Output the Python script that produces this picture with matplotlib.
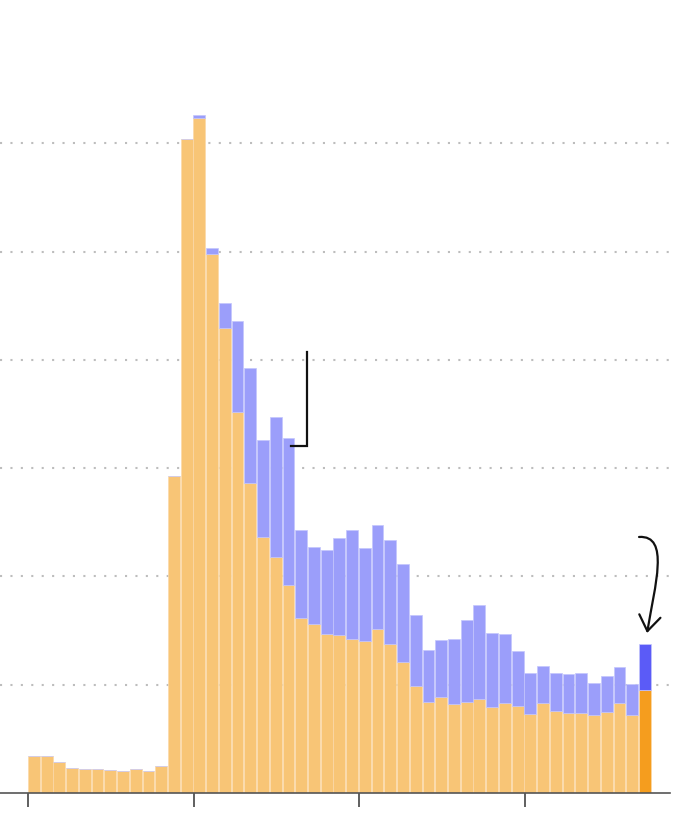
import matplotlib
matplotlib.use("Agg")
import matplotlib.pyplot as plt
from matplotlib.patches import FancyArrowPatch
from matplotlib.path import Path

# weekly values (gridline spacing = 1 unit)
lower = [0.34, 0.34, 0.29, 0.23, 0.225, 0.22, 0.21, 0.20, 0.22, 0.20,
         0.25, 2.93, 6.04, 6.23, 4.98, 4.29, 3.52, 2.86, 2.36, 2.18,
         1.92, 1.62, 1.56, 1.47, 1.46, 1.42, 1.40, 1.51, 1.38, 1.21,
         0.99, 0.84, 0.89, 0.82, 0.84, 0.87, 0.79, 0.83, 0.80, 0.73,
         0.83, 0.76, 0.74, 0.74, 0.72, 0.75, 0.83, 0.72, 0.95]
total = [0.34, 0.34, 0.29, 0.23, 0.225, 0.22, 0.21, 0.20, 0.22, 0.20,
         0.25, 2.93, 6.04, 6.26, 5.03, 4.52, 4.36, 3.92, 3.26, 3.47,
         3.28, 2.43, 2.27, 2.24, 2.35, 2.43, 2.26, 2.47, 2.34, 2.11,
         1.64, 1.32, 1.41, 1.42, 1.60, 1.74, 1.48, 1.47, 1.31, 1.11,
         1.17, 1.11, 1.10, 1.11, 1.02, 1.08, 1.16, 1.01, 1.38]
upper = [t - l for t, l in zip(total, lower)]
xs = list(range(len(lower)))
tick_pos = [0, 13, 26, 39]
grid_levels = [1, 2, 3, 4, 5, 6]

orange_light, blue_light = "#F8C576", "#9B9EFA"
orange_dark, blue_dark = "#F59D1E", "#5B5BF7"
col_lo = [orange_light] * (len(xs) - 1) + [orange_dark]
col_hi = [blue_light] * (len(xs) - 1) + [blue_dark]

fig = plt.figure(figsize=(6.74, 8.36), dpi=100)
ax = fig.add_axes([0, 1 - 793 / 836, 1, 793 / 836])

for g in grid_levels:
    ax.axhline(g, color="#BDBDBD", lw=1.5, ls=(0, (1, 4)), zorder=0)

ax.bar(xs, lower, width=0.93, color=col_lo, edgecolor="#FBD9A8", lw=0.5, zorder=2)
ax.bar(xs, upper, bottom=lower, width=0.93, color=col_hi, edgecolor="#C4C6FC", lw=0.5, zorder=2)

ax.set_xlim(-2.66, -2.66 + 674 / 12.73)
ax.set_ylim(0, 793 / 108.3)
ax.set_xticks([p - 0.45 for p in tick_pos])
ax.set_xticklabels([])
ax.set_yticks([])
ax.tick_params(axis="x", length=10, width=1.2, color="#444444", direction="out")
for s in ["top", "right", "left"]:
    ax.spines[s].set_visible(False)
ax.spines["bottom"].set_color("#555555")
ax.spines["bottom"].set_linewidth(1.2)
ax.spines["bottom"].set_bounds(-2.66, -2.66 + 670 / 12.73)
ax.spines["bottom"].set_zorder(3)

# bracket pointing at the blue part
ax.plot([20.2, 21.46, 21.46], [3.20, 3.20, 4.07], color="#111111", lw=1.6,
        solid_joinstyle="miter", zorder=4)

# curved arrow to last bar
path = Path([(47.54, 2.364), (49.97, 2.383), (48.79, 1.92), (48.17, 1.477)],
            [Path.MOVETO, Path.CURVE4, Path.CURVE4, Path.CURVE4])
arrow = FancyArrowPatch(path=path, arrowstyle="->,head_length=0.5,head_width=0.35",
                        mutation_scale=22, color="#111111", lw=1.6, zorder=4)
ax.add_patch(arrow)

plt.savefig("out.png", dpi=100)
